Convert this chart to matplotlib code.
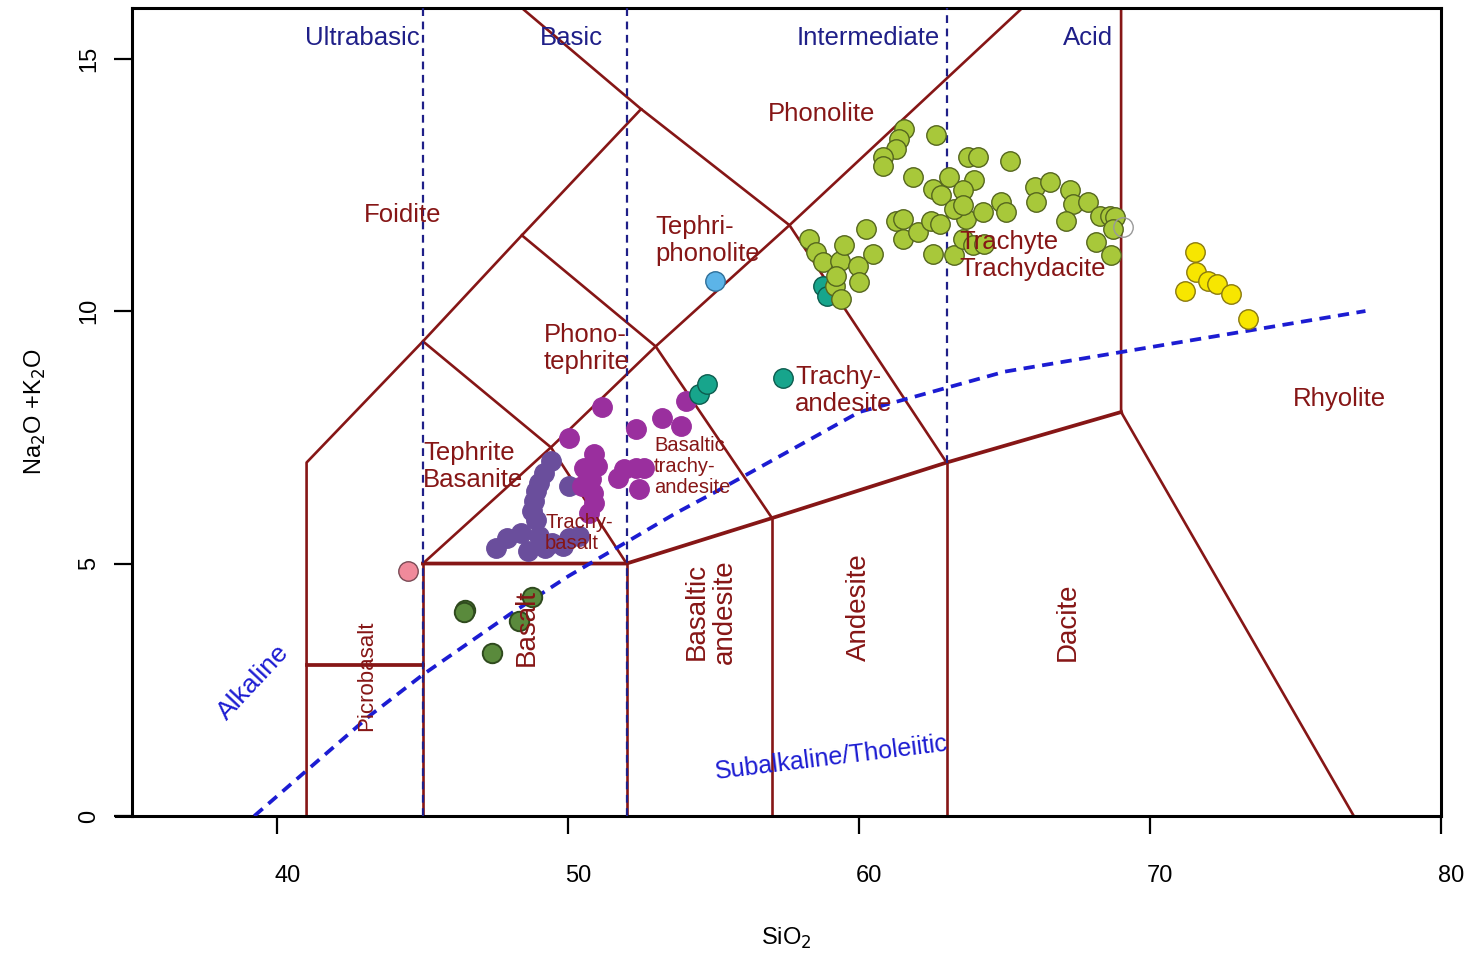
import matplotlib
matplotlib.use("Agg")
import matplotlib.pyplot as plt
import matplotlib.transforms as mtransforms

plt.rcParams['font.family'] = ['Liberation Sans', 'DejaVu Sans']

# sample groups: SiO2 and Na2O+K2O
pink_si = [44.48]
pink_alk = [4.86]
green_si = [46.44, 46.40, 47.37, 48.30, 48.75]
green_alk = [4.07, 4.05, 3.23, 3.87, 4.33]
slate_si = [49.39, 49.16, 49.00, 48.88, 48.82, 48.76, 48.88, 48.36, 47.90, 47.50,
            49.00, 49.45, 50.02, 50.37, 50.02, 48.60, 49.20, 49.80]
slate_alk = [7.03, 6.80, 6.60, 6.43, 6.24, 6.04, 5.87, 5.61, 5.51, 5.31,
             5.54, 5.41, 5.51, 5.54, 6.53, 5.25, 5.30, 5.35]
magenta_si = [51.17, 50.02, 50.88, 51.00, 50.54, 50.77, 50.48, 50.83, 50.88, 50.71,
              51.69, 51.92, 52.32, 52.60, 52.43, 52.32, 53.23, 53.87, 54.04]
magenta_alk = [8.09, 7.49, 7.16, 6.93, 6.90, 6.67, 6.53, 6.40, 6.20, 6.00,
               6.70, 6.87, 6.90, 6.90, 6.47, 7.66, 7.89, 7.72, 8.22]
teal_si = [54.50, 54.78, 57.39, 58.74, 58.90]
teal_alk = [8.35, 8.55, 8.67, 10.50, 10.30]
blue_si = [55.04]
blue_alk = [10.60]
lime_si = [61.55, 61.38, 61.27, 60.80, 60.80, 62.64, 61.84, 62.53, 62.82, 63.10,
           63.67, 63.27, 61.27, 61.49, 61.49, 62.01, 62.47, 62.76, 62.53, 63.27,
           60.23, 60.46, 58.28, 58.51, 58.74, 59.32, 59.49, 59.95, 60.00, 59.15,
           59.37, 59.20,
           63.73, 64.07, 65.17, 63.96, 63.56, 63.56, 64.25, 64.88, 65.05, 66.03,
           66.54, 66.08, 67.23, 67.34, 67.86, 67.12, 68.26, 68.61, 68.78, 68.72,
           68.15, 68.66, 63.56, 63.90, 64.30]
lime_alk = [13.61, 13.41, 13.21, 13.05, 12.88, 13.48, 12.65, 12.42, 12.29, 12.65,
            11.83, 12.02, 11.79, 11.83, 11.43, 11.56, 11.79, 11.73, 11.13, 11.10,
            11.63, 11.13, 11.43, 11.16, 10.97, 11.00, 11.30, 10.90, 10.57, 10.50,
            10.24, 10.70,
            13.05, 13.05, 12.98, 12.59, 12.39, 12.09, 11.96, 12.16, 11.96, 12.45,
            12.55, 12.16, 12.39, 12.12, 12.16, 11.79, 11.89, 11.89, 11.86, 11.63,
            11.36, 11.10, 11.43, 11.30, 11.33]
open_si = [69.06]
open_alk = [11.66]
yellow_si = [71.53, 71.59, 71.99, 72.28, 71.19, 72.79, 73.36]
yellow_alk = [11.16, 10.77, 10.60, 10.54, 10.40, 10.34, 9.84]

# TAS field boundaries (SiO2, Na2O+K2O)
thin_bounds = [
    [(41, 0), (41, 7), (45, 9.4), (48.4, 11.5), (52.5, 14), (57.6, 11.7), (63, 7)],
    [(48.4, 16), (52.5, 14)],
    [(45, 5), (49.4, 7.3), (53, 9.3), (57.6, 11.7), (65.6, 16)],
    [(45, 9.4), (49.4, 7.3), (52, 5)],
    [(48.4, 11.5), (53, 9.3), (57, 5.9)],
    [(45, 0), (45, 5)],
    [(52, 0), (52, 5)],
    [(57, 0), (57, 5.9)],
    [(63, 0), (63, 7)],
    [(69, 16), (69, 8), (77, 0)],
]
thick_bounds = [
    [(41, 3), (45, 3)],
    [(45, 5), (52, 5), (57, 5.9), (63, 7), (69, 8)],
]
# Irvine & Baragar alkaline / subalkaline divide
ib_si = [39.2, 40, 43.2, 45, 48, 50, 53.7, 55, 60, 65, 77.4]
ib_alk = [0, 0.4, 2, 2.8, 4, 4.75, 6, 6.4, 8, 8.8, 10]

red = '#861616'
navy = '#1f1f88'

fig = plt.figure(figsize=(14.72, 9.58), dpi=100)
ax = fig.add_axes([0.0897, 0.1482, 0.979 - 0.0897, 0.9916 - 0.1482])
ax.set_xlim(35, 80)
ax.set_ylim(0, 16)

for seg in thin_bounds:
    ax.plot([p[0] for p in seg], [p[1] for p in seg], color=red, lw=1.9, zorder=2)
for seg in thick_bounds:
    ax.plot([p[0] for p in seg], [p[1] for p in seg], color=red, lw=2.7, zorder=2)

# silica class dividers
ax.plot([45, 45], [0, 16], color=navy, lw=1.6, ls=(0, (3.5, 2.5)), zorder=3)
ax.plot([52, 52], [0, 16], color=navy, lw=1.6, ls=(0, (3.5, 2.5)), zorder=3)
ax.plot([63, 63], [7, 16], color=navy, lw=1.6, ls=(0, (3.5, 2.5)), zorder=3)

ax.plot(ib_si, ib_alk, color='#1c1cd2', lw=2.7, ls=(0, (3, 2)), zorder=3)

ms = 14
def dots(x, y, fc, ec, lw=1.0):
    ax.plot(x, y, 'o', ms=ms, mfc=fc, mec=ec, mew=lw, ls='none', zorder=4)

dots(pink_si, pink_alk, '#f08a9b', '#7a4a55')
dots(green_si, green_alk, '#5a8a3c', '#2f4a1e', 1.4)
dots(slate_si, slate_alk, '#6a4e9c', '#6a4e9c')
dots(magenta_si, magenta_alk, '#9a2f9e', '#9a2f9e')
dots(teal_si, teal_alk, '#17a58c', '#0c5c4e')
dots(blue_si, blue_alk, '#5cb4e8', '#2e6f99')
dots(lime_si, lime_alk, '#a8c83a', '#55661e')
dots(open_si, open_alk, 'none', '#999999')
dots(yellow_si, yellow_alk, '#f7e600', '#8a7a10')

# silica class names
cls = dict(color=navy, fontsize=18.5, va='center', zorder=6)
ax.text(44.9, 15.4, 'Ultrabasic', ha='right', **cls)
ax.text(50.1, 15.4, 'Basic', ha='center', **cls)
ax.text(60.3, 15.4, 'Intermediate', ha='center', **cls)
ax.text(67.85, 15.4, 'Acid', ha='center', **cls)

# field names
fld = dict(color=red, fontsize=18.5, zorder=6, linespacing=1.15)
ax.text(44.3, 11.9, 'Foidite', ha='center', va='center', **fld)
ax.text(58.7, 13.9, 'Phonolite', ha='center', va='center', **fld)
ax.text(53.0, 11.4, 'Tephri-\nphonolite', ha='left', va='center', **fld)
ax.text(49.15, 9.25, 'Phono-\ntephrite', ha='left', va='center', **fld)
ax.text(45.0, 6.92, 'Tephrite\nBasanite', ha='left', va='center', **fld)
ax.text(57.8, 8.43, 'Trachy-\nandesite', ha='left', va='center', **fld)
ax.text(63.45, 11.1, 'Trachyte\nTrachydacite', ha='left', va='center', **fld)
ax.text(76.5, 8.25, 'Rhyolite', ha='center', va='center', **fld)
ax.text(49.2, 5.6, 'Trachy-\nbasalt', ha='left', va='center', color=red,
        fontsize=14.5, zorder=6, linespacing=1.1)
ax.text(52.95, 6.92, 'Basaltic\ntrachy-\nandesite', ha='left', va='center', color=red,
        fontsize=14.5, zorder=6, linespacing=1.15)
rot = dict(color=red, fontsize=20, rotation=90, ha='center', va='center', zorder=6)
ax.text(67.16, 3.85, 'Dacite', **rot)
ax.text(60.0, 4.13, 'Andesite', **rot)
ax.text(54.9, 4.05, 'Basaltic\nandesite', linespacing=1.1, **rot)
ax.text(48.57, 3.73, 'Basalt', **rot)
ax.text(43.07, 2.78, 'Picrobasalt', color=red, fontsize=16, rotation=90,
        ha='center', va='center', zorder=6)

ax.text(39.18, 2.64, 'Alkaline', color='#1c1cd2', fontsize=19, rotation=47,
        ha='center', va='center', zorder=6)
ax.text(59.04, 1.15, 'Subalkaline/Tholeiitic', color='#1c1cd2', fontsize=18,
        rotation=7, ha='center', va='center', zorder=6)

# axes styling, R-like
for sp in ax.spines.values():
    sp.set_linewidth(2.2)
ax.plot([34.45, 35], [0, 0], color='black', lw=2.2, clip_on=False, zorder=5)
ax.set_xticks([40, 50, 60, 70, 80])
ax.set_yticks([0, 5, 10, 15])
ax.tick_params(axis='both', length=13, width=1.6, labelsize=17)
ax.tick_params(axis='x', pad=22)
ax.tick_params(axis='y', pad=10)
shift = mtransforms.ScaledTranslation(10 / 100, 0, fig.dpi_scale_trans)
for lab in ax.get_xticklabels():
    lab.set_transform(lab.get_transform() + shift)
for lab in ax.get_yticklabels():
    lab.set_rotation(90)
    lab.set_va('center')
ax.set_xlabel('SiO$_2$', fontsize=17, labelpad=28)
ax.set_ylabel('Na$_2$O +K$_2$O', fontsize=17, labelpad=22)

fig.savefig('out.png', dpi=100)
